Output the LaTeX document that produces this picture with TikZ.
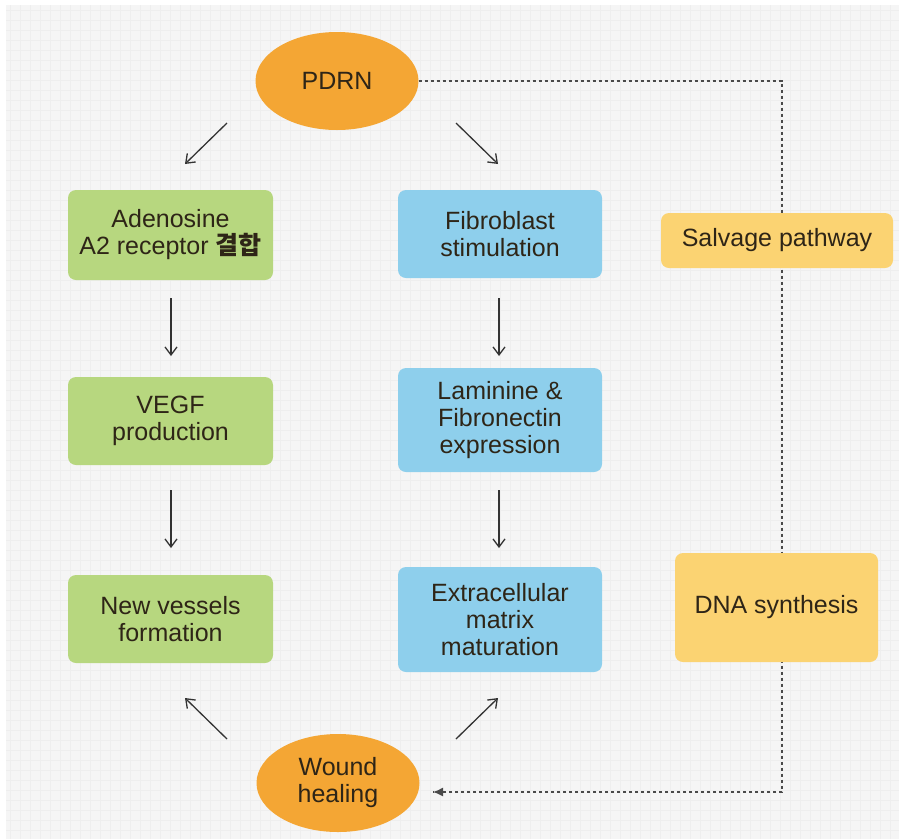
\documentclass[tikz,border=0pt]{standalone}
\usepackage{fontspec}
\setmainfont{Liberation Sans}
\newfontfamily\krfont{Noto Sans CJK KR}
\usetikzlibrary{arrows.meta,shapes.geometric}
\definecolor{bgc}{HTML}{F5F5F5}
\definecolor{gridc}{HTML}{EEEEEE}
\definecolor{greenc}{HTML}{B7D77F}
\definecolor{bluec}{HTML}{8ECFEC}
\definecolor{orangec}{HTML}{F4A634}
\definecolor{yellowc}{HTML}{FBD372}
\definecolor{txtc}{HTML}{2E2517}
\definecolor{arrc}{HTML}{333333}
\definecolor{dashc}{HTML}{4A4A4A}
\tikzset{
  box/.style={rectangle, rounded corners=8pt, draw=none, align=center, text=txtc,
    font=\fontsize{25}{27}\selectfont, inner sep=0pt},
  greenbox/.style={box, fill=greenc, minimum width=205pt},
  bluebox/.style={box, fill=bluec, minimum width=204pt},
  yellowbox/.style={box, fill=yellowc},
  oval/.style={ellipse, fill=orangec, draw=none, align=center, text=txtc,
    font=\fontsize{25}{27}\selectfont, inner sep=0pt, minimum width=163pt, minimum height=98pt},
  arr/.style={draw=arrc, line width=1.3pt, -{Straight Barb[length=8pt,width=12pt]}},
  dashline/.style={draw=dashc, line width=1.3pt, dash pattern=on 3.5pt off 2.5pt},
}
\begin{document}
\begin{tikzpicture}[x=1pt,y=-1pt]
\useasboundingbox (0,0) rectangle (899,839);
\fill[white] (0,0) rectangle (899,839);
\fill[bgc] (6,5) rectangle (899,839);
\begin{scope}
\clip (6,5) rectangle (899,839);
\foreach \gx in {10,20,...,890} \draw[gridc, line width=0.4pt] (\gx,5) -- (\gx,839);
\foreach \gy in {10,20,...,830} \draw[gridc, line width=0.4pt] (6,\gy) -- (899,\gy);
\end{scope}

% dashed feedback line (behind boxes)
\coordinate (c1) at (782,81);
\coordinate (c2) at (782,792);
\coordinate (tipw) at (433,792);
\node[oval] (pdrn) at (337,81) {PDRN};
\node[oval] (wound) at (338,783) {Wound\\healing};
\draw[dashline] (pdrn.east) -- (c1) -- (c2) -- (tipw);
\draw[dashline, solid, -{Latex[length=10pt,width=9pt]}] ([xshift=9pt]tipw) -- (tipw);

% boxes
\node[greenbox, minimum height=90pt] (adeno) at (170.5,235) {Adenosine\\A2 receptor {\krfont\bfseries 결합}};
\node[greenbox, minimum height=88pt] (vegf) at (170.5,421) {VEGF\\production};
\node[greenbox, minimum height=88pt] (vessel) at (170.5,619) {New vessels\\formation};
\node[bluebox, minimum height=88pt] (fibro) at (500,234) {Fibroblast\\stimulation};
\node[bluebox, minimum height=104pt] (lamin) at (500,420) {Laminine \&\\Fibronectin\\expression};
\node[bluebox, minimum height=105pt] (ecm) at (500,619.5) {Extracellular\\matrix\\maturation};
\node[yellowbox, minimum width=232pt, minimum height=55pt] (salv) at (777,240.5) {Salvage pathway};
\node[yellowbox, minimum width=203pt, minimum height=109pt] (dna) at (776.5,607.5) {DNA synthesis};

% arrows
\coordinate (a1s) at (227,123); \coordinate (a1e) at (185,164);
\coordinate (a2s) at (456,123); \coordinate (a2e) at (498,164);
\draw[arr] (a1s) -- (a1e);
\draw[arr] (a2s) -- (a2e);
\coordinate (g1s) at (171,298); \coordinate (g1e) at (171,356);
\coordinate (g2s) at (171,490); \coordinate (g2e) at (171,548);
\coordinate (b1s) at (499,298); \coordinate (b1e) at (499,356);
\coordinate (b2s) at (499,490); \coordinate (b2e) at (499,548);
\draw[arr] (g1s) -- (g1e);
\draw[arr] (g2s) -- (g2e);
\draw[arr] (b1s) -- (b1e);
\draw[arr] (b2s) -- (b2e);
\coordinate (w1s) at (227,739); \coordinate (w1e) at (185,698);
\coordinate (w2s) at (456,739); \coordinate (w2e) at (498,698);
\draw[arr] (w1s) -- (w1e);
\draw[arr] (w2s) -- (w2e);
\end{tikzpicture}
\end{document}
